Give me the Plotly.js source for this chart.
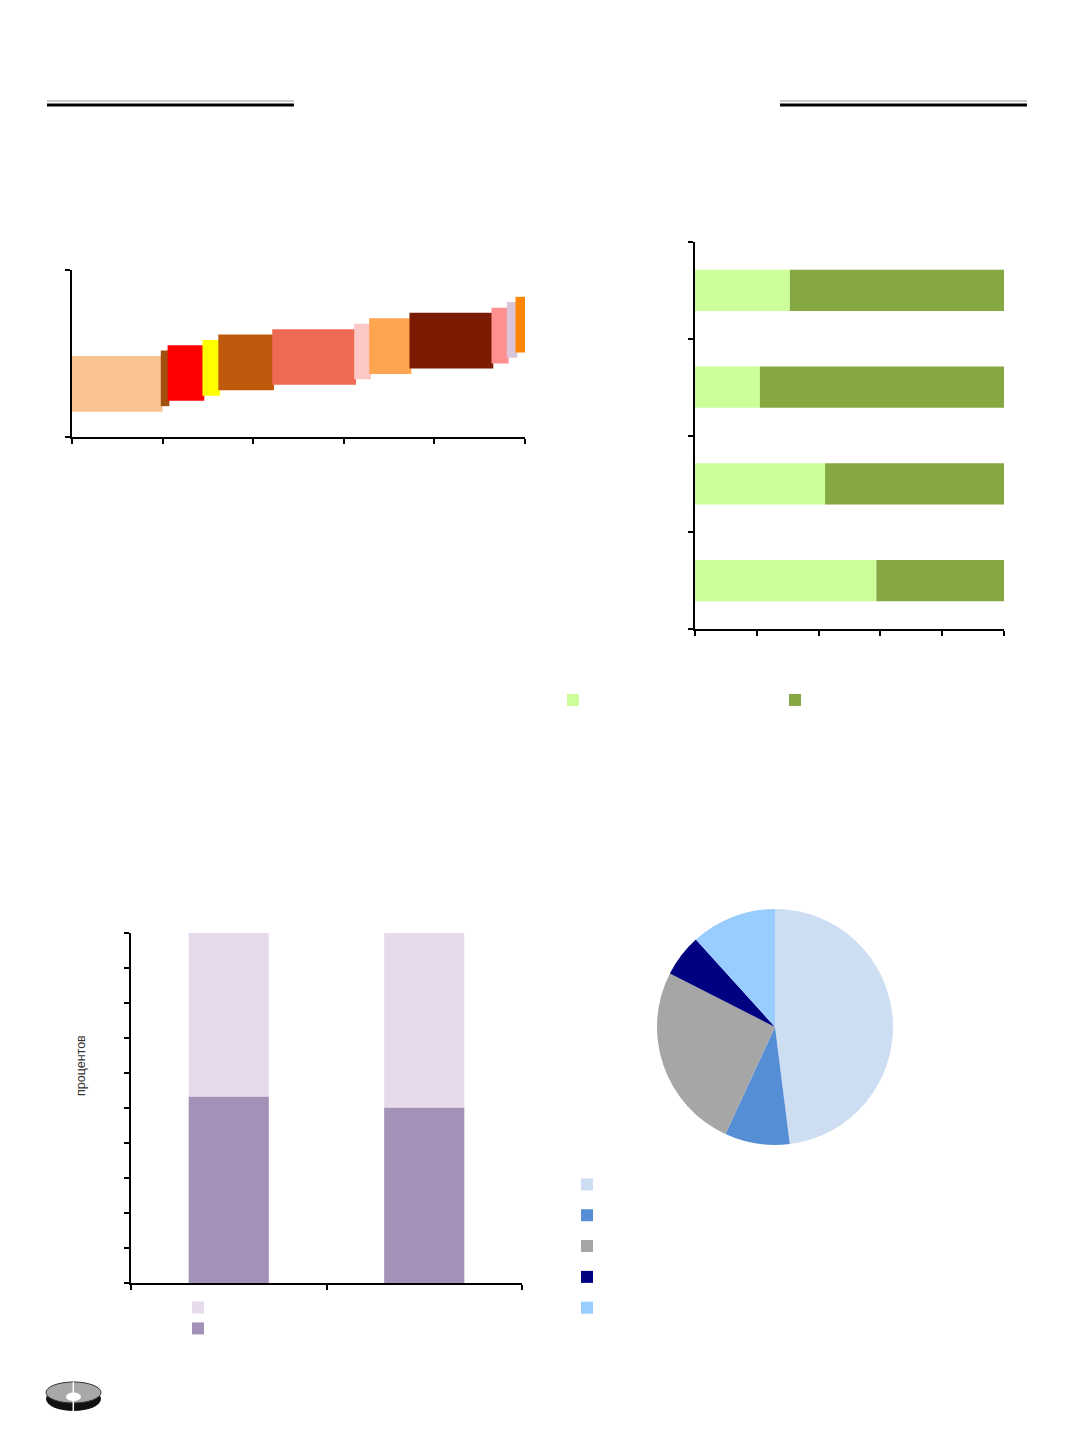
<!DOCTYPE html>
<html>
<head>
<meta charset="utf-8">
<script src="https://cdn.plot.ly/plotly-3.0.1.min.js"></script>
<style>
html,body{margin:0;padding:0;background:#fff;width:1072px;height:1433px;overflow:hidden;}
#page{width:1072px;height:1433px;overflow:hidden;position:relative;}
</style>
</head>
<body>
<div id="page"></div>
<script>
// ---------- DATA ----------
// Chart 1: floating blocks (widths = shares along x, mids = level)
var c1Widths = [19.6, 1.5, 7.7, 3.5, 11.9, 18.1, 3.3, 8.9, 18.1, 3.4, 1.9, 3.0];
var c1Mids   = [9.55, 10.54, 11.50, 12.42, 13.41, 14.37, 15.36, 16.32, 17.31, 18.20, 19.25, 20.18];
var c1Band   = 10;
var c1Colors = ['#F9C292','#A0500F','#FF0000','#FFFF00','#BF5A0C','#EE6A55',
                '#FCC8C5','#FFA44F','#7B1B02','#FF9090','#D9C4DA','#FF8600'];

// Chart 2: horizontal 100% stacked bars (bottom to top)
var c2Cats  = [0, 1, 2, 3];
var c2Light = [58.7, 42.1, 21.0, 30.7];
var c2Dark  = [41.3, 57.9, 79.0, 69.3];

// Chart 3: vertical 100% stacked bars
var c3Cats  = [0, 1];
var c3Dark  = [53.2, 50.1];
var c3Light = [46.8, 49.9];
var c3YTitle = 'процентов';

// Chart 4: pie
var c4Values = [48.0, 8.9, 25.6, 5.8, 11.7];
var c4Labels = [' ', '  ', '   ', '    ', '     '];
var c4Colors = ['#CDDDF2', '#558ED5', '#A6A6A6', '#000080', '#99CCFF'];

// ---------- LAYOUT HELPERS ----------
var W = 1072, H = 1433;
function px(x){ return x / W; }
function py(y){ return 1 - y / H; }

// cumulative positions for chart 1
var c1X = [], c1W = [], c1Base = [], c1Y = [];
var acc = 0;
for (var i = 0; i < c1Widths.length; i++) {
  var w = c1Widths[i] + 0.4;
  c1X.push(acc + w / 2);
  c1W.push(w);
  c1Base.push(c1Mids[i] - c1Band / 2);
  c1Y.push(c1Band);
  acc += c1Widths[i];
}

var traces = [
  {
    type: 'bar', x: c1X, y: c1Y, base: c1Base, width: c1W, cliponaxis: false,
    marker: {color: c1Colors, line: {width: 0}},
    xaxis: 'x', yaxis: 'y', showlegend: false, hoverinfo: 'skip'
  },
  {
    type: 'bar', orientation: 'h', y: c2Cats, x: c2Light, width: 0.424,
    marker: {color: '#CCFF99', line: {width: 0}}, name: ' ',
    xaxis: 'x2', yaxis: 'y2', legend: 'legend'
  },
  {
    type: 'bar', orientation: 'h', y: c2Cats, x: c2Dark, base: c2Light, width: 0.424,
    marker: {color: '#86A843', line: {width: 0}}, name: '  ',
    xaxis: 'x2', yaxis: 'y2', legend: 'legend'
  },
  {
    type: 'bar', x: c3Cats, y: c3Light, base: c3Dark, width: 0.41,
    marker: {color: '#E6DAEC', line: {width: 0}}, name: '   ',
    xaxis: 'x3', yaxis: 'y3', legend: 'legend2'
  },
  {
    type: 'bar', x: c3Cats, y: c3Dark, width: 0.41,
    marker: {color: '#A391B7', line: {width: 0}}, name: '    ',
    xaxis: 'x3', yaxis: 'y3', legend: 'legend2'
  },
  {
    type: 'pie', values: c4Values, labels: c4Labels, sort: false,
    direction: 'clockwise', rotation: 0, textinfo: 'none',
    marker: {colors: c4Colors, line: {width: 0}},
    domain: {x: [px(657), px(893)], y: [py(1145), py(909)]},
    legend: 'legend3', hoverinfo: 'skip'
  }
];

var axBase = {
  showgrid: false, zeroline: false, showline: true, linecolor: '#000', linewidth: 2,
  ticks: 'outside', ticklen: 5, tickwidth: 2, tickcolor: '#000',
  showticklabels: false, fixedrange: true
};
function ax(extra){ return Object.assign({}, axBase, extra); }

var shapes = [
  // header rules
  {type:'line', xref:'paper', yref:'paper', x0:px(47), x1:px(294), y0:py(101), y1:py(101), line:{color:'#999', width:1}},
  {type:'line', xref:'paper', yref:'paper', x0:px(47), x1:px(294), y0:py(105), y1:py(105), line:{color:'#000', width:3}},
  {type:'line', xref:'paper', yref:'paper', x0:px(780), x1:px(1027), y0:py(101), y1:py(101), line:{color:'#999', width:1}},
  {type:'line', xref:'paper', yref:'paper', x0:px(780), x1:px(1027), y0:py(105), y1:py(105), line:{color:'#000', width:3}},
  // logo
  {type:'circle', xref:'paper', yref:'paper', x0:px(46), x1:px(101), y0:py(1411), y1:py(1387), fillcolor:'#111', line:{width:0}},
  {type:'circle', xref:'paper', yref:'paper', x0:px(46), x1:px(101), y0:py(1403), y1:py(1382), fillcolor:'#A8A8A8', line:{color:'#333', width:1}},
  {type:'circle', xref:'paper', yref:'paper', x0:px(66), x1:px(81), y0:py(1401), y1:py(1392.5), fillcolor:'#fff', line:{width:0}},
  {type:'line', xref:'paper', yref:'paper', x0:px(73.3), x1:px(73.3), y0:py(1411), y1:py(1382), line:{color:'#fff', width:1.5}}
];

var layout = {
  width: W, height: H,
  margin: {l:0, r:0, t:0, b:0, pad:0},
  paper_bgcolor: '#fff', plot_bgcolor: 'rgba(0,0,0,0)',
  barmode: 'overlay',
  font: {family: 'Liberation Sans, Arial, sans-serif', color: '#333'},
  xaxis: ax({domain:[px(72), px(525)], range:[0,100], tickvals:[0,20,40,60,80,100], anchor:'y'}),
  yaxis: ax({domain:[py(437), py(270)], range:[0,30], tickvals:[0,30], anchor:'x'}),
  xaxis2: ax({domain:[px(695), px(1004)], range:[0,100], tickvals:[0,20,40,60,80,100], anchor:'y2'}),
  yaxis2: ax({domain:[py(629), py(242)], range:[-0.5,3.5], tickvals:[-0.5,0.5,1.5,2.5,3.5], anchor:'x2'}),
  xaxis3: ax({domain:[px(131), px(522)], range:[-0.5,1.5], tickvals:[-0.5,0.5,1.5], anchor:'y3'}),
  yaxis3: ax({domain:[py(1283), py(933)], range:[0,100], tickvals:[0,10,20,30,40,50,60,70,80,90,100], anchor:'x3'}),
  annotations: [
    {xref:'paper', yref:'paper', x:px(81), y:py(1066), text:c3YTitle, textangle:-90, showarrow:false,
     xanchor:'center', yanchor:'middle', font:{size:12.5, color:'#333', family:'Liberation Sans, Arial, sans-serif'}}
  ],
  legend: {orientation:'h', x:px(553), y:py(685), xanchor:'left', yanchor:'top', entrywidth:177, entrywidthmode:'pixels',
           font:{size:13}, bgcolor:'rgba(0,0,0,0)', borderwidth:0, traceorder:'normal'},
  legend2: {orientation:'v', x:px(178), y:py(1292), xanchor:'left', yanchor:'top',
           font:{size:13.8}, bgcolor:'rgba(0,0,0,0)', borderwidth:0, traceorder:'normal', tracegroupgap:0},
  legend3: {orientation:'v', x:px(567), y:py(1164), xanchor:'left', yanchor:'top',
           font:{size:21.4}, bgcolor:'rgba(0,0,0,0)', borderwidth:0},
  shapes: shapes,
  showlegend: true
};

Plotly.newPlot('page', traces, layout, {staticPlot: true, displayModeBar: false});
</script>
</body>
</html>
